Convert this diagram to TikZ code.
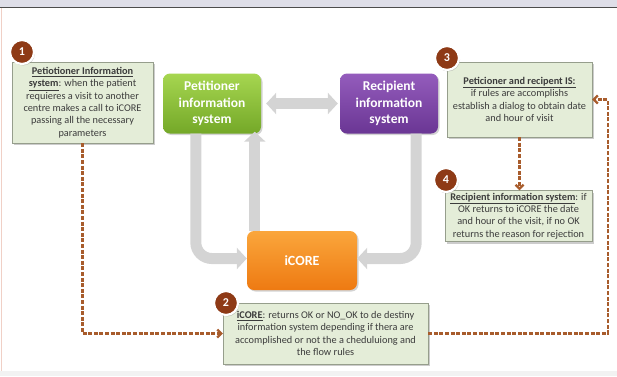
\documentclass[tikz,border=0pt]{standalone}
\usepackage{fontspec}
\setmainfont{Carlito}
\usepackage{tikz}
\usetikzlibrary{arrows.meta, positioning, shadows}

\definecolor{grnTop}{RGB}{166,214,80}
\definecolor{grnBot}{RGB}{116,168,40}
\definecolor{purTop}{RGB}{148,92,188}
\definecolor{purBot}{RGB}{106,54,148}
\definecolor{orgTop}{RGB}{250,166,60}
\definecolor{orgBot}{RGB}{238,122,18}
\definecolor{noteFill}{RGB}{228,237,216}
\definecolor{noteLine}{RGB}{150,158,140}
\definecolor{numBrown}{RGB}{142,58,22}
\definecolor{dashBrown}{RGB}{168,92,44}
\definecolor{txtGray}{RGB}{60,60,60}
\definecolor{bandTop}{RGB}{222,222,232}
\definecolor{edgePink}{RGB}{240,208,198}

\begin{document}
\begin{tikzpicture}[
      x=1pt, y=-1pt,
      sysbox/.style={rounded corners=7pt, align=center, text=white, minimum width=98pt, minimum height=60pt,
                     font=\bfseries\fontsize{13.5}{16.5}\selectfont, drop shadow={shadow xshift=1.5pt, shadow yshift=-1.5pt, opacity=0.35}},
      notebox/.style={draw=noteLine, fill=noteFill, align=center, text=txtGray, inner sep=2pt,
                      font=\fontsize{10.3}{12.3}\selectfont, drop shadow={shadow xshift=2pt, shadow yshift=-2pt, opacity=0.4}},
      num/.style={circle, fill=numBrown, draw=white, line width=2.2pt, text=white, minimum size=24pt, inner sep=0pt,
                  font=\bfseries\fontsize{12}{12}\selectfont, drop shadow={shadow xshift=1pt, shadow yshift=-1.5pt, opacity=0.35}},
      fat/.style={line width=11pt, draw=black!17, -{Triangle[width=21pt, length=10pt]}},
      link/.style={draw=dashBrown, line width=2.2pt, dash pattern=on 4pt off 1.6pt, -{Straight Barb[length=4pt, width=8pt]}}
    ]
    \useasboundingbox (0,0) rectangle (617,376);
    % page frame
    \fill[bandTop] (0,0) rectangle (617,7);
    \draw[black!70, line width=1pt] (0,7.5) -- (617,7.5);
    \fill[black!5] (0,371) rectangle (617,376);
    \draw[edgePink, line width=0.8pt] (1,8) -- (1,371);

    % systems
    \node[sysbox, top color=grnTop, bottom color=grnBot] (pet) at (212,103.5) {Petitioner\\information\\system};
    \node[sysbox, top color=purTop, bottom color=purBot] (rec) at (389,103.5) {Recipient\\information\\system};
    \node[sysbox, top color=orgTop, bottom color=orgBot, minimum width=110pt, minimum height=59pt,
          font=\bfseries\fontsize{14}{16}\selectfont] (icore) at (302,260.5) {iCORE};

    % notes
    \node[notebox, minimum width=141pt, minimum height=81pt] (n1) at (82.5,102.5)
      {\underline{\textbf{Petiotioner Information}}\\\underline{\textbf{system}}: when the patient\\requieres a visit to another\\centre makes a call to iCORE\\passing all the necessary\\parameters};
    \node[notebox, minimum width=205pt, minimum height=61pt] (n2) at (325.5,333.5)
      {\underline{\textbf{iCORE}}: returns OK or NO\_OK to de destiny\\information system depending if thera are\\accomplished or not the a cheduluiong and\\the flow rules};
    \node[notebox, minimum width=145pt, minimum height=75pt] (n3) at (519.5,99.5)
      {\underline{\textbf{Peticioner and recipent IS:}}\\if rules are accomplishs\\establish a dialog to obtain date\\and hour of visit};
    \node[notebox, minimum width=147pt, minimum height=51pt] (n4) at (518.5,216)
      {\underline{\textbf{Recipient information system}}: if\\OK returns to iCORE the date\\and hour of the visit, if no OK\\returns the reason for rejection};

    % numbers
    \node[num] (c1) at (22,52) {1};
    \node[num] (c2) at (226,303) {2};
    \node[num] (c3) at (447,58) {3};
    \node[num] (c4) at (446,180) {4};

    % flows between systems
    \draw[fat, rounded corners=16pt] ([xshift=33pt]pet.south west) |- ([yshift=2pt]icore.west);
    \draw[fat] ([xshift=8pt]icore.north west) -- ([xshift=8pt, yshift=2pt]icore.north west |- pet.south);
    \draw[fat, rounded corners=16pt] ([xshift=-22pt]rec.south east) |- ([yshift=2pt]icore.east);
    \draw[fat, {Triangle[width=21pt, length=10pt]}-{Triangle[width=21pt, length=10pt]}, shorten <=5pt, shorten >=2pt]
      (pet.east) -- (rec.west);

    % sequence
    \coordinate (rt) at (608,333.5);
    \draw[link] (n1.south) |- (n2.west);
    \draw[link] (n2.east) -- (rt) |- (n3.east);
    \draw[link] (n3.south) -- (n3.south |- n4.north);
  \end{tikzpicture}
\end{document}
